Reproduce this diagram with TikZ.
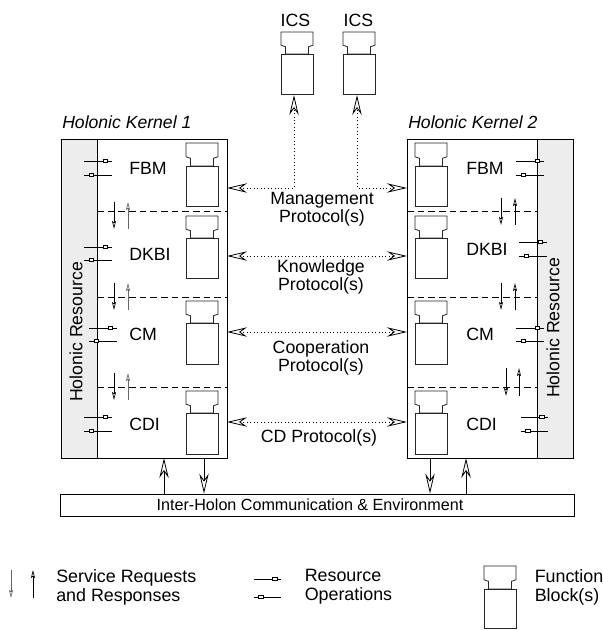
\documentclass[tikz,border=0pt]{standalone}
\usepackage{fontspec}
\setmainfont{Liberation Sans}
\usetikzlibrary{arrows.meta,positioning,calc}

\tikzset{
    bighead/.tip={Stealth[open,length=15pt,width=7pt,inset=5pt]},
    kernelbox/.style={draw, line width=0.6pt},
    graybox/.style={draw, line width=0.6pt, fill=black!7},
    layerline/.style={dash pattern=on 5pt off 3pt, line width=0.5pt},
    protocol/.style={dotted, line width=0.6pt, bighead-bighead},
    envarrow/.style={line width=0.6pt, -bighead},
    fbline/.style={line width=0.6pt, black!85},
    service/.style={line width=0.5pt, -{Stealth[open,length=6pt,width=3pt,inset=1pt]}},
    resource/.style={line width=0.5pt},
    resmark/.style={draw, fill=white, inner sep=0pt, minimum width=3.5pt, minimum height=2pt, line width=0.4pt},
    label/.style={font=\fontsize{13.3}{13.6}\selectfont, align=center, inner sep=0pt},
    kernellabel/.style={font=\fontsize{13.2}{14}\selectfont\itshape, anchor=west, inner sep=0pt},
    legend/.style={font=\fontsize{13.4}{14.3}\selectfont, align=left, inner sep=0pt, anchor=west},
}

% function block: left edge #1, top #2, body from #3 to #4
\newcommand{\fblock}[4]{
    \draw[fbline] (#1,#2) -- ++(32,0) -- ++(0,{0.6*(#3-#2)}) -- ++(-4.5,1.5) -- (#1+27.5,#3)
        -- (#1+4.5,#3) -- (#1+4.5,{#2+0.6*(#3-#2)+1.5}) -- (#1,{#2+0.6*(#3-#2)}) -- cycle;
    \draw[fbline] (#1,#3) rectangle (#1+32,#4);
}

% service arrows at x positions #2, #3 between #4 and #5
\newcommand{\servpair}[5][black]{
    \draw[service] (#2,#4) -- (#2,#5);
    \draw[service, #1] (#3,#5) -- (#3,#4);
}

% resource arrows from #1 to #2 at heights #3, #4
\newcommand{\respair}[4]{
    \draw[resource] (#1,#3) -- (#2,#3) node[resmark, pos=0.76] {};
    \draw[resource] (#1,#4) -- (#2,#4) node[resmark, pos=0.26] {};
}

\begin{document}
\begin{tikzpicture}[x=0.75pt, y=-0.75pt]
    \useasboundingbox (0,0) rectangle (602,630);

    % Kernel boxes
    \draw[graybox] (61,139) rectangle (97,458);
    \draw[kernelbox] (97,139) rectangle (227,458);
    \draw[graybox] (537,139) rectangle (573,458);
    \draw[kernelbox] (407,139) rectangle (537,458);

    \node[kernellabel] (k1) at (62,122) {Holonic Kernel 1};
    \node[kernellabel] (k2) at (408,122) {Holonic Kernel 2};
    \node[label, rotate=90] (r1) at (76,332) {Holonic Resource};
    \node[label, rotate=90] (r2) at (553,328) {Holonic Resource};

    % Layer lines
    \foreach \y in {211,297,387} {
        \draw[layerline] (97,\y) -- (227,\y);
        \draw[layerline] (407,\y) -- (537,\y);
    }

    % Function blocks
    \foreach \a/\b/\c in {143/166/206, 216/238/278, 301/323/364, 391/413/454} {
        \fblock{186}{\a}{\b}{\c}
        \fblock{415}{\a}{\b}{\c}
    }
    \fblock{281}{32}{54}{94}
    \fblock{343}{32}{54}{94}

    % Layer names
    \foreach \y/\z/\t in {168/168/FBM, 254/249/DKBI, 334/334/CM, 424/424/CDI} {
        \node[label, anchor=west] at (129,\y) {\t};
        \node[label, anchor=west] at (466,\z) {\t};
    }
    \node[label] (ics1) at (295.5,20) {ICS};
    \node[label] (ics2) at (358.5,20) {ICS};

    % Protocols
    \coordinate (m1) at (227,188);
    \coordinate (m2) at (407,188);
    \coordinate (u1) at (294,95);
    \coordinate (u2) at (357,95);
    \draw[protocol] (m1) -| (u1);
    \draw[protocol] (m2) -| (u2);
    \coordinate (n1) at (227,256);
    \coordinate (n2) at (407,256);
    \draw[protocol] (n1) -- (n2);
    \coordinate (c1) at (227,332);
    \coordinate (c2) at (407,332);
    \draw[protocol] (c1) -- (c2);
    \coordinate (d1) at (227,422);
    \coordinate (d2) at (407,422);
    \draw[protocol] (d1) -- (d2);

    \node[label] (pm) at (322,209) {Management\\Protocol(s)};
    \node[label] (pk) at (321,277) {Knowledge\\Protocol(s)};
    \node[label] (pc) at (321,358) {Cooperation\\Protocol(s)};
    \node[label] (pd) at (319,438) {CD Protocol(s)};

    % Service arrows
    \servpair[black!60]{114}{128}{202}{229}
    \servpair[black!60]{114}{128}{283}{310}
    \servpair[black!60]{114}{128}{373}{400}
    \servpair{501}{515}{198}{225}
    \servpair{501}{515}{283}{310}
    \servpair{506}{519}{368}{396}

    % Resource arrows
    \respair{84}{112}{161}{175}
    \respair{84}{112}{247}{260}
    \respair{89}{117}{328}{341}
    \respair{84}{112}{417}{431}
    \respair{516}{544}{161}{175}
    \respair{519}{547}{242}{256}
    \respair{516}{544}{328}{341}
    \respair{521}{548}{417}{431}

    % Environment
    \node[draw, line width=0.6pt, minimum width=385pt, minimum height=16.5pt, inner sep=0pt] (env) at (317.5,505) {};
    \node[font=\fontsize{12.1}{14}\selectfont, inner sep=0pt] (envtext) at (310,505) {Inter-Holon Communication \& Environment};
    \draw[envarrow] (env.north -| 164,0) -- (164,458);
    \draw[envarrow] (204,458) -- (env.north -| 204,0);
    \draw[envarrow] (430,458) -- (env.north -| 430,0);
    \draw[envarrow] (env.north -| 466,0) -- (466,458);

    % Legend
    \draw[service, black!60] (11,570) -- (11,598);
    \draw[service] (33,598) -- (33,570);
    \node[legend] (ls) at (56,587) {Service Requests\\and Responses};
    \draw[resource] (254,579) -- (281,579) node[resmark, pos=0.76] {};
    \draw[resource] (254,597) -- (281,597) node[resmark, pos=0.26] {};
    \node[legend] (lr) at (304.5,587) {Resource\\Operations};
    \fblock{484}{566}{589}{628}
    \node[legend] (lf) at (534.5,587) {Function\\Block(s)};
\end{tikzpicture}
\end{document}
